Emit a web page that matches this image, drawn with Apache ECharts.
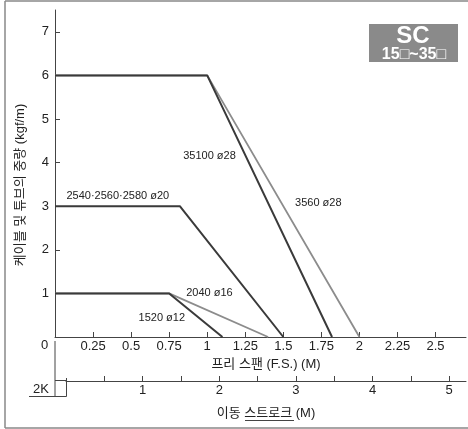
<!DOCTYPE html>
<html>
<head>
<meta charset="utf-8">
<script src="https://cdn.jsdelivr.net/npm/echarts@6/dist/echarts.min.js"></script>
<style>
html, body { margin: 0; padding: 0; background: #fff; }
#chart { width: 468px; height: 429px; }
</style>
</head>
<body>
<div id="chart"></div>
<script>
/* 프리 스팬 - 중량 데이터 */
var fsTicks = [0.25, 0.5, 0.75, 1, 1.25, 1.5, 1.75, 2, 2.25, 2.5];
var strokeTicks = [1, 2, 3, 4, 5];
var strokeMinor = [0.5, 1, 1.5, 2, 2.5, 3, 3.5, 4, 4.5, 5];
var wTicks = [1, 2, 3, 4, 5, 6, 7];

var line3560 = [[0, 6], [1, 6], [2, 0]];
var line35100 = [[0, 6], [1, 6], [1.82, 0]];
var line2540 = [[0, 3], [0.82, 3], [1.5, 0]];
var line2040 = [[0, 1], [0.75, 1], [1.4, 0]];
var line1520 = [[0, 1], [0.75, 1], [1.1, 0]];

var names = ['3560 ø28', '35100 ø28', '2540·2560·2580 ø20', '2040 ø16', '1520 ø12'];

var FONT = '"Liberation Sans", Arial, "Noto Sans CJK KR", sans-serif';
var DARK = '#3a3a3a';
var GRAY = '#8c8c8c';
var AX = '#444';

function lineSeries(name, data, color, width, labelAt) {
	return {
		name: name,
		type: 'line',
		xAxisIndex: 0,
		yAxisIndex: 0,
		symbol: 'none',
		silent: true,
		data: data,
		lineStyle: { color: color, width: width },
		markPoint: {
			symbol: 'circle',
			symbolSize: 0,
			silent: true,
			label: {
				show: true,
				position: 'right',
				distance: 0,
				formatter: name,
				color: '#222',
				fontSize: 11,
				fontFamily: FONT
			},
			data: [{ coord: labelAt }]
		}
	};
}

var chart = echarts.init(document.getElementById('chart'), null, { renderer: 'canvas' });

var option = {
	backgroundColor: '#fff',
	animation: false,
	textStyle: { fontFamily: FONT },
	grid: [
		{ left: 55, right: 2, top: 10, bottom: 92 },
		{ left: 66, right: 2, top: 380, height: 1 }
	],
	xAxis: [{
		gridIndex: 0,
		type: 'value',
		min: 0,
		max: 2.7,
		interval: 0.25,
		name: '프리 스팬 (F.S.) (M)',
		nameLocation: 'middle',
		nameGap: 19,
		nameTextStyle: { fontSize: 13, color: '#222', padding: [0, 0, 0, 11], fontFamily: FONT },
		axisLine: { lineStyle: { color: AX, width: 1 } },
		axisTick: { inside: true, length: 5, customValues: fsTicks, lineStyle: { color: AX } },
		axisLabel: {
			fontSize: 13, color: '#222', margin: 3, fontFamily: FONT,
			customValues: fsTicks,
			formatter: function (v) { return fsTicks.indexOf(v) >= 0 ? String(v) : ''; }
		},
		splitLine: { show: false }
	}, {
		gridIndex: 1,
		type: 'value',
		min: 0,
		max: 5.22,
		interval: 0.5,
		name: '이동 스트로크 (M)',
		nameLocation: 'middle',
		nameGap: 26,
		nameTextStyle: { fontSize: 13, color: '#222', fontFamily: FONT },
		axisLine: { lineStyle: { color: AX, width: 1 } },
		axisTick: { inside: true, length: 5, customValues: strokeMinor, lineStyle: { color: AX } },
		axisLabel: {
			fontSize: 13, color: '#222', margin: 3, fontFamily: FONT,
			customValues: strokeTicks,
			formatter: function (v) { return strokeTicks.indexOf(v) >= 0 ? String(v) : ''; }
		},
		splitLine: { show: false }
	}],
	yAxis: [{
		gridIndex: 0,
		type: 'value',
		min: 0,
		max: 7.5,
		interval: 1,
		name: '케이블 및 튜브의 중량 (kgf/m)',
		nameLocation: 'middle',
		nameGap: 28,
		nameTextStyle: { fontSize: 13, color: '#222', padding: [0, 23, 0, 0], fontFamily: FONT },
		axisLine: { show: true, lineStyle: { color: AX, width: 1 } },
		axisTick: { show: true, inside: true, length: 5, customValues: wTicks, lineStyle: { color: AX } },
		axisLabel: {
			fontSize: 13, color: '#222', margin: 6, fontFamily: FONT,
			customValues: wTicks,
			formatter: function (v) { return wTicks.indexOf(v) >= 0 ? String(v) : ''; }
		},
		splitLine: { show: false }
	}, {
		gridIndex: 1,
		type: 'value',
		show: false,
		min: 0,
		max: 1
	}],
	graphic: [
		// 외곽 테두리
		{ type: 'line', shape: { x1: 5, y1: 1, x2: 468, y2: 1 }, style: { stroke: '#888', lineWidth: 1.5 }, silent: true },
		{ type: 'line', shape: { x1: 5, y1: 1, x2: 5, y2: 428 }, style: { stroke: '#888', lineWidth: 1.5 }, silent: true },
		{ type: 'line', shape: { x1: 5, y1: 428, x2: 468, y2: 428 }, style: { stroke: '#888', lineWidth: 1.5 }, silent: true },
		// 2K 표시
		{ type: 'line', shape: { x1: 55, y1: 341, x2: 55, y2: 396.5 }, style: { stroke: AX, lineWidth: 1 }, silent: true },
		{ type: 'line', shape: { x1: 55, y1: 380.5, x2: 66, y2: 380.5 }, style: { stroke: AX, lineWidth: 1 }, silent: true },
		{ type: 'line', shape: { x1: 66.5, y1: 378, x2: 66.5, y2: 396.5 }, style: { stroke: AX, lineWidth: 1 }, silent: true },
		{ type: 'line', shape: { x1: 29, y1: 396.5, x2: 66.5, y2: 396.5 }, style: { stroke: AX, lineWidth: 1 }, silent: true },
		{ type: 'text', left: 33, top: 383, style: { text: '2K', fontSize: 13, fill: '#222', fontFamily: FONT }, silent: true },
		{ type: 'text', left: 41, top: 339, style: { text: '0', fontSize: 13, fill: '#222', fontFamily: FONT }, silent: true },
		{ type: 'line', shape: { x1: 245, y1: 420.5, x2: 294, y2: 420.5 }, style: { stroke: '#444', lineWidth: 1 }, silent: true },
		// SC 배지
		{ type: 'rect', shape: { x: 369, y: 24, width: 89, height: 38 }, style: { fill: '#8a8a8a' }, silent: true },
		{ type: 'text', x: 413, y: 36, style: { text: 'SC', fontSize: 24, fontWeight: 'bold', fill: '#fff', align: 'center', verticalAlign: 'middle', fontFamily: FONT }, silent: true },
		{ type: 'text', x: 414, y: 55, style: { text: '15□~35□', fontSize: 16, fontWeight: 'bold', fill: '#fff', align: 'center', verticalAlign: 'middle', fontFamily: FONT }, silent: true }
	],
	series: [
		lineSeries(names[0], line3560, GRAY, 1.8, [1.577, 3.07]),
		lineSeries(names[3], line2040, GRAY, 1.8, [0.862, 1.02]),
		lineSeries(names[1], line35100, DARK, 2, [0.842, 4.15]),
		lineSeries(names[2], line2540, DARK, 2, [0.075, 3.23]),
		lineSeries(names[4], line1520, DARK, 2, [0.549, 0.43]),
		{ type: 'line', xAxisIndex: 1, yAxisIndex: 1, data: [], symbol: 'none' }
	]
};

chart.setOption(option, true);
</script>
</body>
</html>
